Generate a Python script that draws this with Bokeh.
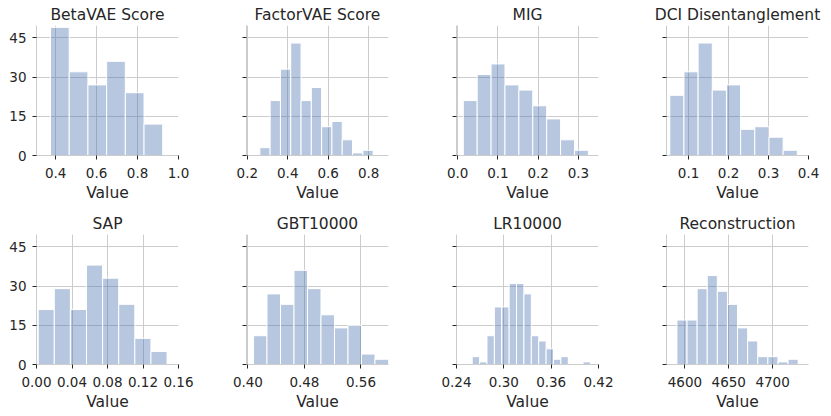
import numpy as np
from bokeh.plotting import figure
from bokeh.layouts import column, row
from bokeh.models import Range1d, FixedTicker, NumeralTickFormatter
from bokeh.embed import file_html
from bokeh.resources import INLINE

titles = ["BetaVAE Score", "FactorVAE Score", "MIG", "DCI Disentanglement",
          "SAP", "GBT10000", "LR10000", "Reconstruction"]

betavae_counts = [49, 32, 27, 36, 24, 12]
factorvae_counts = [3, 21, 33, 43, 21, 26, 11, 13, 6, 1, 2]
mig_counts = [21, 31, 35, 27, 25, 19, 14, 6, 2]
dci_counts = [23, 32, 43, 25, 27, 10, 11, 7, 2]
sap_counts = [21, 29, 21, 38, 33, 23, 10, 5]
gbt_counts = [11, 27, 23, 36, 29, 19, 14, 15, 4, 2]
lr_counts = [3, 1, 11, 22, 22, 31, 31, 27, 11, 9, 6, 2, 3, 0, 0, 1]
recon_counts = [17, 17, 29, 34, 28, 23, 14, 9, 3, 3, 1, 2]

all_counts = [betavae_counts, factorvae_counts, mig_counts, dci_counts,
              sap_counts, gbt_counts, lr_counts, recon_counts]

# histogram bin range (first left edge, last right edge) per metric
bin_lo = [0.375, 0.262, 0.0139, 0.0529, 0.0019, 0.4079, 0.2599, 4590.9]
bin_hi = [0.923, 0.822, 0.3248, 0.372, 0.1471, 0.599, 0.4098, 4729.2]

x_ticks = [[0.4, 0.6, 0.8, 1.0], [0.2, 0.4, 0.6, 0.8], [0.0, 0.1, 0.2, 0.3],
           [0.1, 0.2, 0.3, 0.4], [0.0, 0.04, 0.08, 0.12, 0.16],
           [0.40, 0.48, 0.56], [0.24, 0.30, 0.36, 0.42], [4600, 4650, 4700]]
x_formats = ["0.0", "0.0", "0.0", "0.0", "0.00", "0.00", "0.00", "0"]
x_limits = [(0.3065, 1.0), (0.196, 0.898), (-0.003, 0.35), (0.0447, 0.4),
            (0.0, 0.16), (0.398, 0.599), (0.24, 0.42), (4579, 4741)]
y_ticks = [0, 15, 30, 45]
y_max = 49.7

FONT = "DejaVu Sans"
TXT = "#262626"
GRID = "#cccccc"
BAR = "#4c72b0"

figs = []
for i in range(8):
    r, c = divmod(i, 4)
    last = (c == 3)
    p = figure(output_backend="svg", toolbar_location=None,
               frame_width=142, frame_height=130,
               x_range=Range1d(*x_limits[i]), y_range=Range1d(0, y_max),
               min_border_left=36, min_border_right=(20 if last else 32),
               min_border_top=25, min_border_bottom=(54 if r == 0 else 44),
               tools="")
    p.outline_line_color = None
    p.background_fill_color = "white"
    p.border_fill_color = "white"

    counts = all_counts[i]
    edges = np.linspace(bin_lo[i], bin_hi[i], len(counts) + 1)
    p.quad(left=edges[:-1], right=edges[1:], bottom=0, top=counts,
           fill_color=BAR, fill_alpha=0.4, line_color="white", line_width=1)

    p.title.text = titles[i]
    p.title.text_font = FONT
    p.title.text_font_size = "15.5px"
    p.title.text_font_style = "normal"
    p.title.text_color = TXT
    p.title.align = "center"
    p.title.standoff = 3
    p.title.offset = 0

    p.xaxis.ticker = FixedTicker(ticks=x_ticks[i])
    p.xgrid.ticker = FixedTicker(ticks=x_ticks[i])
    p.xaxis.formatter = NumeralTickFormatter(format=x_formats[i])
    p.yaxis.ticker = FixedTicker(ticks=y_ticks)
    p.ygrid.ticker = FixedTicker(ticks=y_ticks)
    if c != 0:
        p.yaxis.major_label_overrides = {t: "" for t in y_ticks}

    for ax in (p.xaxis[0], p.yaxis[0]):
        ax.axis_line_color = GRID
        ax.axis_line_width = 1
        ax.major_tick_line_color = TXT
        ax.major_tick_out = 4
        ax.major_tick_in = 0
        ax.minor_tick_line_color = None
        ax.major_label_text_font = FONT
        ax.major_label_text_font_size = "13.5px"
        ax.major_label_text_color = TXT
    p.yaxis.major_label_standoff = 6
    p.xaxis.major_label_standoff = 8

    p.xaxis.axis_label = "Value"
    p.xaxis.axis_label_text_font = FONT
    p.xaxis.axis_label_text_font_size = "15.5px"
    p.xaxis.axis_label_text_font_style = "normal"
    p.xaxis.axis_label_text_color = TXT
    p.xaxis.axis_label_standoff = 3

    p.xgrid.grid_line_color = GRID
    p.ygrid.grid_line_color = GRID
    p.xgrid.grid_line_width = 1
    p.ygrid.grid_line_width = 1
    figs.append(p)

layout = column(row(*figs[:4]), row(*figs[4:]))

open("out.html", "w").write(file_html(layout, INLINE))
